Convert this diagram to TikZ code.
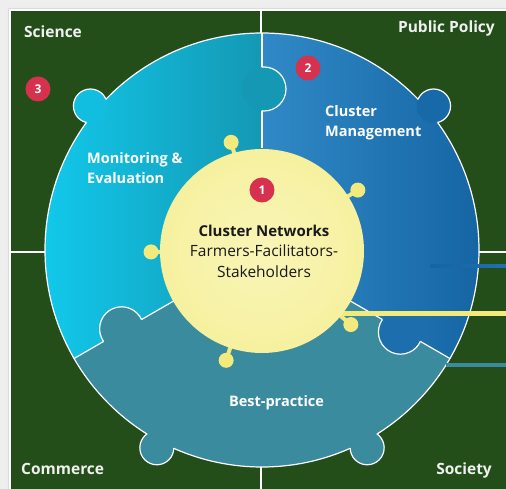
\documentclass[tikz,border=0pt]{standalone}
\usepackage{fontspec}
\setmainfont{Open Sans}
\usetikzlibrary{positioning}

\definecolor{pagegray}{RGB}{238,238,238}
\definecolor{boardgreen}{RGB}{36,78,25}
\definecolor{cyanL}{RGB}{18,200,234}
\definecolor{cyanR}{RGB}{20,152,180}
\definecolor{blueL}{RGB}{48,137,198}
\definecolor{blueR}{RGB}{18,96,159}
\definecolor{blueTab}{RGB}{28,110,173}
\definecolor{barblue}{RGB}{33,110,178}
\definecolor{tealB}{RGB}{58,139,157}
\definecolor{yellowC}{RGB}{249,245,182}
\definecolor{yellowE}{RGB}{242,234,125}
\definecolor{badgered}{RGB}{214,50,79}
\definecolor{inktext}{RGB}{25,25,25}

\pgfdeclareradialshading{yellowglow}{\pgfpointorigin}{color(0bp)=(yellowC); color(20bp)=(yellowC!70!yellowE); color(50bp)=(yellowE)}

\begin{document}
\begin{tikzpicture}[x=1pt, y=1pt,
  corner/.style={font=\fontsize{15.5}{18}\selectfont\bfseries, text=white!94!black, inner sep=0pt},
  piecetext/.style={font=\fontsize{14.5}{20}\selectfont\bfseries, text=white, align=left, inner sep=0pt},
  badge/.style={circle, fill=badgered, minimum size=25pt, inner sep=0pt, font=\fontsize{12}{12}\selectfont\bfseries, text=white},
  seam/.style={white, line width=1.2pt},
  lolly/.style={yellowE, line width=4pt}]

% page, shadow and board
\useasboundingbox (-262,-239) rectangle (244,250);
\fill[pagegray] (-262,-239) rectangle (244,250);
\fill[black!7] (-256,-245) rectangle (250,244);
\fill[black!14] (-254,-245) rectangle (250,242);
\fill[boardgreen] (-252,-245) rectangle (250,240);
\draw[white, line width=1.2pt] (-252,-245) -- (-252,240) -- (250,240);

% quadrant lines
\draw[seam] (-1,240) -- (-1,-245);
\draw[seam] (-252,-2) -- (250,-2);

% ring pieces
\shade[left color=cyanL, right color=cyanR] (0,0) -- (90:217) arc[start angle=90, end angle=210, radius=217pt] -- cycle;
\shade[left color=blueL, right color=blueR] (0,0) -- (-30:217) arc[start angle=-30, end angle=90, radius=217pt] -- cycle;
\fill[tealB] (0,0) -- (210:217) arc[start angle=210, end angle=330, radius=217pt] -- cycle;

% seams of the ring
\draw[seam] (0,0) circle[radius=217pt];
\foreach \a in {90,210,330}
  \draw[seam] (\a:102) -- (\a:217);

% tab: Monitoring into Management
\fill[cyanR] (2,161) circle[radius=22pt];
\begin{scope}
  \clip (0,0) -- (30:217) arc[start angle=30, end angle=90, radius=217pt] -- cycle;
  \draw[seam] (2,161) circle[radius=22pt];
\end{scope}

% tab: Best-practice into Monitoring
\fill[tealB] (-140.4,-78.8) circle[radius=22pt];
\begin{scope}
  \clip (0,0) -- (150:217) arc[start angle=150, end angle=210, radius=217pt] -- cycle;
  \draw[seam] (-140.4,-78.8) circle[radius=22pt];
\end{scope}

% tab: Management into Best-practice
\fill[blueTab] (138.4,-82.2) circle[radius=22pt];
\begin{scope}
  \clip (0,0) -- (270:217) arc[start angle=270, end angle=330, radius=217pt] -- cycle;
  \draw[seam] (138.4,-82.2) circle[radius=22pt];
\end{scope}

% outer tabs
\foreach \a/\c in {140/cyanL!80!cyanR, 40/blueL!22!blueR, 242/tealB, 298/tealB}{
  \fill[\c] (\a:224) circle[radius=17pt];
  \begin{scope}
    \clip (\a-30:217) arc[start angle=\a-30, end angle=\a+30, radius=217pt]
      -- (\a+30:260) arc[start angle=\a+30, end angle=\a-30, radius=260pt] -- cycle;
    \draw[seam] (\a:224) circle[radius=17pt];
  \end{scope}
}

% bars to the right
\shade[left color=blueR!90!blueL, right color=barblue] (168,-17.8) rectangle (244,-14.2);
\fill[tealB] (184,-117.5) rectangle (244,-113.5);
\fill[yellowE] (68,-66) rectangle (244,-61);

% core with its studs
\foreach \a/\d in {106/112, 32/113, 181/111, -40/116, 252/116}{
  \draw[lolly] (\a:95) -- (\a:\d);
  \fill[yellowE] (\a:\d) circle[radius=7.5pt];
}
\shade[shading=yellowglow] (0,-1) circle[radius=102pt];

% badges
\node[badge] (b1) at (0,60) {1};
\node[badge] (b2) at (46,182) {2};
\node[badge] (b3) at (-224,161) {3};

% labels
\node[corner, anchor=west] (science) at (-238,218) {Science};
\node[corner, anchor=east] (policy) at (233,222) {Public Policy};
\node[corner, anchor=west] (commerce) at (-241,-219) {Commerce};
\node[corner, anchor=east] (society) at (230,-220) {Society};

\node[piecetext, anchor=west] (monitor) at (-175,82) {Monitoring \&\\Evaluation};
\node[piecetext, anchor=west] (manage) at (63,127) {Cluster\\Management};
\node[piecetext] (best) at (14.5,-153) {Best-practice};

\node[font=\fontsize{15.5}{20.5}\selectfont, text=inktext, align=center, inner sep=0pt] (core) at (2,-1)
  {{\fontsize{15}{20.5}\selectfont\bfseries Cluster Networks}\\Farmers-Facilitators-\\Stakeholders};

\end{tikzpicture}
\end{document}
